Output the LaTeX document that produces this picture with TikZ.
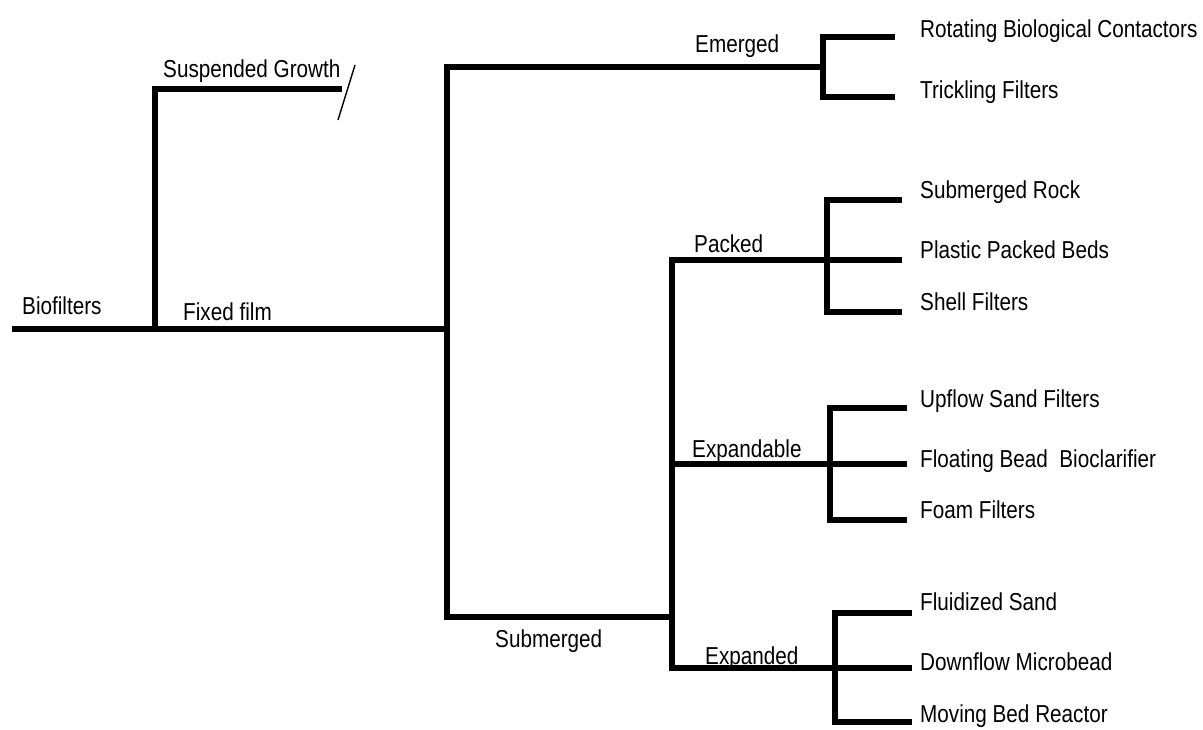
\documentclass[tikz,border=0pt]{standalone}
\usepackage{fontspec}
\setmainfont[FakeStretch=0.845]{Liberation Sans}
\begin{document}
\begin{tikzpicture}[x=1pt,y=-1pt,
  lbl/.style={anchor=base west,inner sep=0pt,font=\fontsize{24.5}{24.5}\selectfont},
  branch/.style={line width=5.5pt,line cap=butt,line join=miter},
  thin/.style={line width=1.4pt}]
\useasboundingbox (0,0) rectangle (1203,729);
% coordinates
\coordinate (root) at (12,329);
\coordinate (j1) at (155,329);
\coordinate (sg) at (155,89);
\coordinate (sgE) at (342,89);
\coordinate (slA) at (355,65);
\coordinate (slB) at (338,120);
\coordinate (j2) at (447,329);
\coordinate (emT) at (447,67);
\coordinate (emJ) at (823,67);
\coordinate (emA) at (823,37);
\coordinate (emB) at (823,97);
\coordinate (emAE) at (895,37);
\coordinate (emBE) at (895,97);
\coordinate (subB) at (447,617);
\coordinate (subJ) at (672,617);
\coordinate (subT) at (672,260);
\coordinate (subD) at (672,668);
\coordinate (paJ) at (827,260);
\coordinate (paA) at (827,200);
\coordinate (paC) at (827,312);
\coordinate (paAE) at (902,200);
\coordinate (paBE) at (902,260);
\coordinate (paCE) at (902,312);
\coordinate (exS) at (672,464);
\coordinate (exJ) at (830,464);
\coordinate (exA) at (830,408);
\coordinate (exC) at (830,520);
\coordinate (exAE) at (907,408);
\coordinate (exBE) at (907,464);
\coordinate (exCE) at (907,520);
\coordinate (edJ) at (835,668);
\coordinate (edA) at (835,613);
\coordinate (edC) at (835,722);
\coordinate (edAE) at (912,613);
\coordinate (edBE) at (912,668);
\coordinate (edCE) at (912,722);
% connectors
\draw[branch] (root) -- (j2);
\draw[branch] (sgE) -- (sg) -- (j1);
\draw[thin] (slA) -- (slB);
\draw[branch] (emJ) -- (emT) -- (subB) -- (subJ);
\draw[branch] (emAE) -- (emA) -- (emB) -- (emBE);
\draw[branch] (paJ) -- (subT) -- (subD) -- (edJ);
\draw[branch] (paAE) -- (paA) -- (paC) -- (paCE);
\draw[branch] (paJ) -- (paBE);
\draw[branch] (exS) -- (exBE);
\draw[branch] (exAE) -- (exA) -- (exC) -- (exCE);
\draw[branch] (edAE) -- (edA) -- (edC) -- (edCE);
\draw[branch] (edJ) -- (edBE);
% labels
\node[lbl] (biof) at (22,314) {Biofilters};
\node[lbl] (fixed) at (183,320) {Fixed film};
\node[lbl] (susp) at (163,77) {Suspended Growth};
\node[lbl] (emer) at (695,52) {Emerged};
\node[lbl] (pack) at (694,252) {Packed};
\node[lbl] (expa) at (692,457) {Expandable};
\node[lbl] (subm) at (495,647) {Submerged};
\node[lbl] (expd) at (705,664) {Expanded};
\node[lbl] (rbc) at (920,37) {Rotating Biological Contactors};
\node[lbl] (trf) at (920,98) {Trickling Filters};
\node[lbl] (sro) at (920,198) {Submerged Rock};
\node[lbl] (ppb) at (920,258) {Plastic Packed Beds};
\node[lbl] (shf) at (920,310) {Shell Filters};
\node[lbl] (usf) at (920,407) {Upflow Sand Filters};
\node[lbl] (fbb) at (920,467) {Floating Bead\ \ Bioclarifier};
\node[lbl] (fof) at (920,518) {Foam Filters};
\node[lbl] (fls) at (920,610) {Fluidized Sand};
\node[lbl] (dfm) at (920,670) {Downflow Microbead};
\node[lbl] (mbr) at (920,722) {Moving Bed Reactor};
\end{tikzpicture}
\end{document}
